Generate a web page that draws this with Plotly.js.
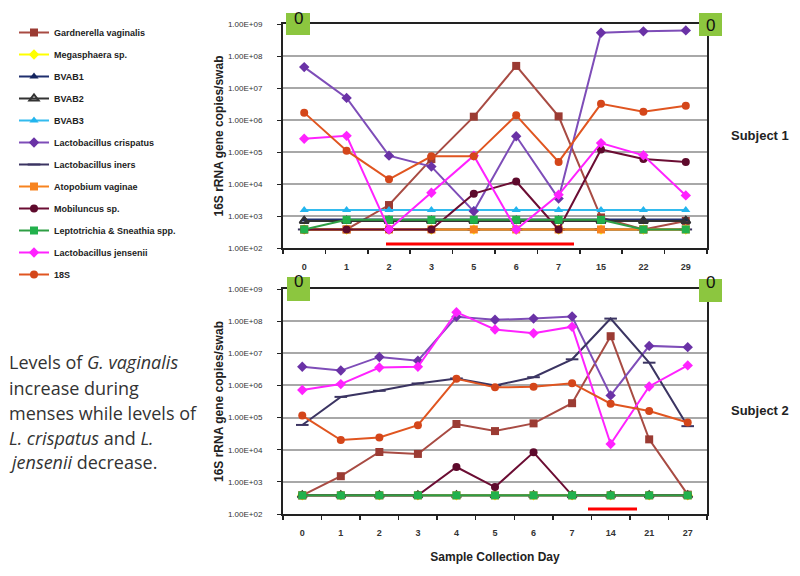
<!DOCTYPE html>
<html>
<head>
<meta charset="utf-8">
<script src="https://cdn.plot.ly/plotly-3.0.1.min.js"></script>
<style>html,body{margin:0;padding:0;background:#fff;}#chart{width:800px;height:576px;}</style>
</head>
<body>
<div id="chart"></div>
<script>
// ---------- DATA ----------
const s1Days = ['0','1','2','3','5','6','7','15','22','29'];
const s2Days = ['0','1','2','3','4','5','6','7','14','21','27'];
const yTickVals = [1e2,1e3,1e4,1e5,1e6,1e7,1e8,1e9];
const yTickText = ['1.00E+02','1.00E+03','1.00E+04','1.00E+05','1.00E+06','1.00E+07','1.00E+08','1.00E+09'];

const speciesNames = ['Gardnerella vaginalis','Megasphaera sp.','BVAB1','BVAB2','BVAB3',
  'Lactobacillus crispatus','Lactobacillus iners','Atopobium vaginae','Mobiluncus sp.',
  'Leptotrichia & Sneathia spp.','Lactobacillus jensenii','18S'];

// Subject 1
const s1Gardnerella = [380,380,2200,6e4,1.27e6,4.9e7,1.3e6,900,380,700];
const s1Megasphaera = [380,380,380,380,380,380,380,380,380,380];
const s1BVAB1       = [780,780,780,780,780,780,780,780,780,780];
const s1BVAB2       = [700,700,700,700,700,700,700,700,700,700];
const s1BVAB3       = [1550,1550,1550,1550,1550,1550,1550,1550,1550,1550];
const s1Crispatus   = [4.5e7,4.9e6,7.7e4,3.5e4,1400,3.1e5,3500,5.3e8,5.9e8,6.3e8];
const s1Iners       = [380,380,380,380,380,380,380,380,380,380];
const s1Atopobium   = [380,380,380,380,380,380,380,380,380,380];
const s1Mobiluncus  = [380,380,380,380,5000,1.2e4,380,1.2e5,6e4,4.9e4];
const s1Lepto       = [380,760,760,760,760,760,760,760,380,380];
const s1Jensenii    = [2.6e5,3.2e5,380,5300,7.7e4,380,4600,1.9e5,7.9e4,4400];
const s1R18S        = [1.7e6,1.1e5,1.4e4,7.3e4,7.3e4,1.4e6,4.9e4,3.2e6,1.8e6,2.8e6];

// Subject 2
const s2Gardnerella = [380,1500,8500,7400,6.3e4,3.8e4,6.6e4,2.8e5,3.4e7,2.1e4,400];
const s2Megasphaera = [380,380,380,380,380,380,380,380,380,380,380];
const s2BVAB1       = [380,380,380,380,380,380,380,380,380,380,380];
const s2BVAB2       = [380,380,380,380,380,380,380,380,380,380,380];
const s2BVAB3       = [380,380,380,380,380,380,380,380,380,380,380];
const s2Crispatus   = [3.8e6,2.9e6,7.7e6,5.9e6,1.36e8,1.1e8,1.2e8,1.4e8,4.9e5,1.7e7,1.55e7];
const s2Iners       = [5.9e4,4.4e5,6.8e5,1.15e6,1.65e6,1e6,1.8e6,6.5e6,1.2e8,5.1e6,5.4e4];
const s2Atopobium   = [380,380,380,380,380,380,380,380,380,380,380];
const s2Mobiluncus  = [380,380,380,380,2900,690,8300,380,380,380,380];
const s2Lepto       = [380,380,380,380,380,380,380,380,380,380,380];
const s2Jensenii    = [7.2e5,1.1e6,3.6e6,3.8e6,1.9e8,5.5e7,4.2e7,6.7e7,1.5e4,9.3e5,4.2e6];
const s2R18S        = [1.15e5,2e4,2.4e4,5.8e4,1.6e6,8.7e5,9.1e5,1.17e6,2.7e5,1.6e5,7e4];

const s1Series = [s1Gardnerella,s1Megasphaera,s1BVAB1,s1BVAB2,s1BVAB3,s1Crispatus,s1Iners,s1Atopobium,s1Mobiluncus,s1Lepto,s1Jensenii,s1R18S];
const s2Series = [s2Gardnerella,s2Megasphaera,s2BVAB1,s2BVAB2,s2BVAB3,s2Crispatus,s2Iners,s2Atopobium,s2Mobiluncus,s2Lepto,s2Jensenii,s2R18S];

// ---------- STYLE ----------
const lineColors   = ['#A84B43','#FFFF00','#1F2F6E','#333333','#33BBEE','#7E4DB8','#3B3462','#F7831F','#6B0D33','#2E9E44','#FF22FF','#E05520'];
const markerColors = ['#9B3B33','#FFFF00','#14245E','#333333','#22B5EE','#6A32A6','#3B3462','#F7831F','#5E0A2C','#22B14C','#FF22FF','#D4461A'];
const symbols = ['square','diamond','triangle-up','triangle-up-open','triangle-up','diamond','line-ew','square','circle','square','diamond','circle'];

const W=800,H=576, ml=283, mr=93, mt=24, mb=62;
const pw=W-ml-mr, ph=H-mt-mb;
const px = x => (x-ml)/pw;
const py = y => 1-(y-mt)/ph;

const traces=[];
function addSet(days, series, xa, ya, show){
  series.forEach((vals,i)=>{
    traces.push({
      x: days, y: vals, xaxis: xa, yaxis: ya, type:'scatter', mode:'lines+markers',
      name: speciesNames[i], legendgroup: 'g'+i, showlegend: show,
      line:{color: lineColors[i], width: 2},
      marker:{symbol: symbols[i], color: markerColors[i], size: (symbols[i]==='line-ew'?9:8),
              line:{color: markerColors[i], width: (symbols[i]==='line-ew'||symbols[i]==='triangle-up-open')?2:0}},
      hoverinfo:'x+y+name'
    });
  });
}
addSet(s1Days, s1Series, 'x', 'y', true);
addSet(s2Days, s2Series, 'x2', 'y2', false);

const axFont = {family:'Liberation Sans, Arial, sans-serif', size:8, color:'#333'};
function xAxis(n, anchor){
  return {anchor: anchor, domain:[0,1], type:'category', range:[-0.5, n-0.5],
    showline:true, mirror:true, linecolor:'#222', linewidth:2, showgrid:false, zeroline:false,
    ticks:'outside', tickson:'boundaries', ticklen:4, tickcolor:'#222', tickwidth:1.5,
    ticklabelstandoff: 9,
    tickfont:{family:'Liberation Sans, Arial, sans-serif', size:9, color:'#333', weight:'bold'}};
}
function yAxis(dom, anchor){
  return {anchor: anchor, domain: dom, type:'log', range:[2,9],
    tickvals: yTickVals, ticktext: yTickText, tickfont: axFont,
    showline:true, mirror:true, linecolor:'#222', linewidth:2,
    gridcolor:'#A8A8A8', gridwidth:2, zeroline:false,
    ticks:'outside', ticklen:4, tickcolor:'#222', ticklabelstandoff: 13,
    title:{text:'16S rRNA gene copies/swab', font:{family:'Liberation Sans, Arial, sans-serif', size:12, color:'#222', weight:'bold'}}};
}

const greenBoxes = [[286,13,310,35],[699,13,722,36],[287,277,310,301],[699,279,722,302]];
const zeroPos = [[298,18],[710,25],[298,281],[710,282]];
const redBars = [[386,244,574],[588,509,637]];

const shapes=[];
greenBoxes.forEach(b=>shapes.push({type:'rect', xref:'paper', yref:'paper', x0:px(b[0]), x1:px(b[2]), y0:py(b[3]), y1:py(b[1]), fillcolor:'#8CC63F', line:{width:0}, layer:'above'}));
redBars.forEach(b=>shapes.push({type:'line', xref:'paper', yref:'paper', x0:px(b[0]), x1:px(b[2]), y0:py(b[1]), y1:py(b[1]), line:{color:'#FF0000', width:3}, layer:'above'}));

const textFont = {family:'Open Sans, Lato, sans-serif', size:18, color:'#333'};
const bodyLines = ['Levels of <i>G. vaginalis</i>','increase during','menses while levels of','<i>L. crispatus</i> and <i>L.</i>','<i>jensenii</i> decrease.'];
const bodyY = [362,388,413,438,462];

const annotations=[];
zeroPos.forEach(p=>annotations.push({xref:'paper', yref:'paper', x:px(p[0]), y:py(p[1]), text:'0', showarrow:false, xanchor:'center', yanchor:'middle', font:{family:'Liberation Sans, Arial, sans-serif', size:17, color:'#111'}}));
bodyLines.forEach((t,i)=>annotations.push({xref:'paper', yref:'paper', x:px(7), y:py(bodyY[i]), text:t, showarrow:false, xanchor:'left', yanchor:'middle', font:textFont}));
annotations.push({xref:'paper', yref:'paper', x:px(760), y:py(135), xanchor:'center', yanchor:'middle', text:'Subject 1', showarrow:false, font:{family:'Liberation Sans, Arial, sans-serif', size:13, color:'#222', weight:'bold'}});
annotations.push({xref:'paper', yref:'paper', x:px(760), y:py(410), xanchor:'center', yanchor:'middle', text:'Subject 2', showarrow:false, font:{family:'Liberation Sans, Arial, sans-serif', size:13, color:'#222', weight:'bold'}});

const layout = {
  width:W, height:H, margin:{l:ml, r:mr, t:mt, b:mb}, paper_bgcolor:'#fff', plot_bgcolor:'#fff',
  showlegend:true,
  legend:{x:px(14), y:py(18), xanchor:'left', yanchor:'top', tracegroupgap:3, itemwidth:30,
    font:{family:'Liberation Sans, Arial, sans-serif', size:9, color:'#222', weight:'bold'}, bgcolor:'rgba(0,0,0,0)'},
  xaxis: xAxis(s1Days.length,'y'),
  yaxis: yAxis([py(248),1],'x'),
  xaxis2: Object.assign(xAxis(s2Days.length,'y2'), {title:{text:'Sample Collection Day', font:{family:'Liberation Sans, Arial, sans-serif', size:12, color:'#222', weight:'bold'}}}),
  yaxis2: yAxis([0, py(289)],'x2'),
  shapes: shapes, annotations: annotations
};

Plotly.newPlot('chart', traces, layout, {displayModeBar:false, staticPlot:true});
</script>
</body>
</html>
